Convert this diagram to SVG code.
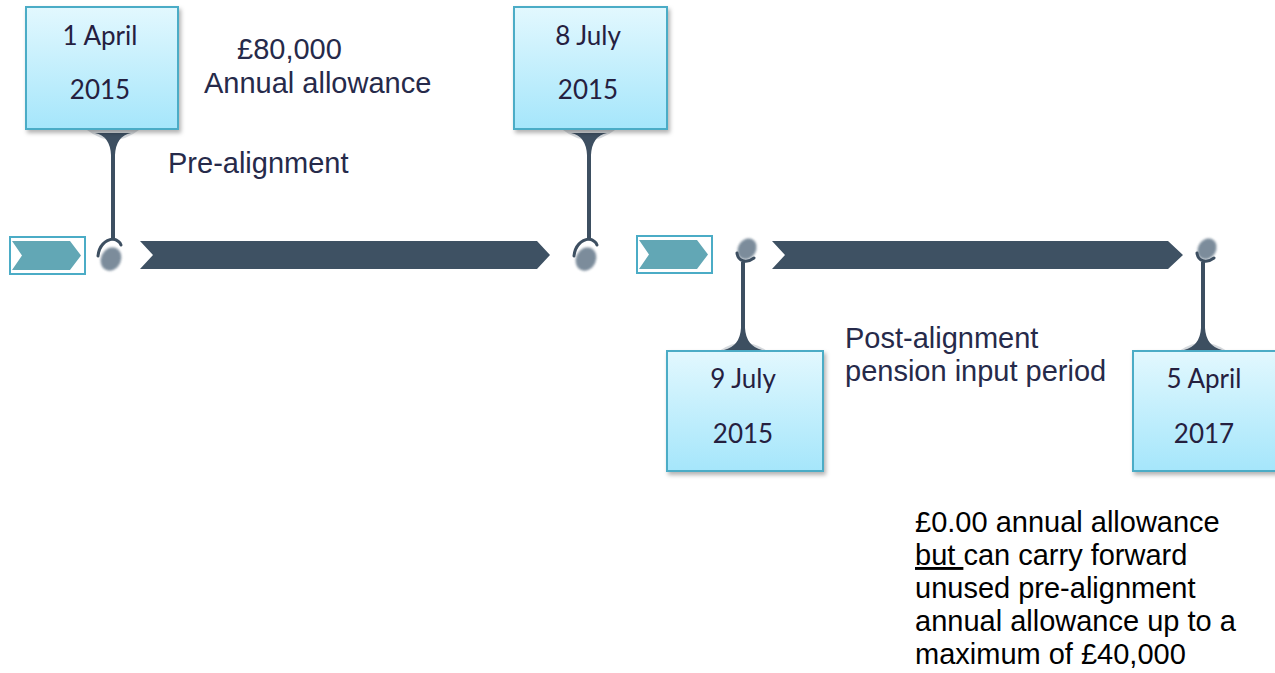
<svg xmlns="http://www.w3.org/2000/svg" width="1275" height="673" viewBox="0 0 1275 673">
<defs>
<linearGradient id="boxGrad" x1="0" y1="0" x2="0" y2="1">
<stop offset="0" stop-color="#e2f8fe"/>
<stop offset="1" stop-color="#a5e6fb"/>
</linearGradient>
<filter id="shadow" x="-10%" y="-10%" width="130%" height="130%">
<feDropShadow dx="2" dy="3" stdDeviation="2" flood-color="#000" flood-opacity="0.3"/>
</filter>
<filter id="blur1" x="-50%" y="-50%" width="200%" height="200%">
<feGaussianBlur stdDeviation="0.8"/>
</filter>
</defs>
<style>
.box{fill:url(#boxGrad);stroke:#4bacc6;stroke-width:2;filter:url(#shadow)}
.date{font-family:Lato,"Open Sans",sans-serif;font-size:26px;fill:#25203f;text-anchor:middle}
.lbl{font-family:"Liberation Sans",Arial,sans-serif;font-size:29px;fill:#262a4a}
.note{font-family:"Liberation Sans",Arial,sans-serif;font-size:29px;fill:#000}
.stem{fill:#3d4f61}
.hook{fill:none;stroke:#3d4f61;stroke-width:3;stroke-linecap:round}
.ball{fill:#7b8c9b;filter:url(#blur1)}
.shade{fill:#c3c9cf;opacity:0.7}
.bar{fill:#3e5163}
.chev{fill:#62a7b5}
.chevbox{fill:#fff;stroke:#4bacc6;stroke-width:2}
</style>

<!-- timeline bars -->
<g id="timeline">
<rect class="chevbox" x="10" y="237" width="75" height="37"/>
<polygon class="chev" points="12,241 70,241 81,255.5 70,270 12,270 22,255.5"/>
<polygon class="bar" points="140,241 537,241 550,255 537,269 140,269 153,255"/>
<rect class="chevbox" x="637" y="236" width="75" height="37"/>
<polygon class="chev" points="639,240 697,240 708,254.5 697,269 639,269 649,254.5"/>
<polygon class="bar" points="772,241 1168,241 1183,255 1168,269 772,269 785,255"/>
</g>

<!-- connectors (stems) -->
<g id="connectors">
<g id="stem1">
<path class="shade" d="M87 130 Q113 150 139 130 Z"/>
<path class="stem" d="M95 133 Q110 136 111 155 L111 240 L115 240 L115 155 Q116 136 131 133 Z"/>
<path class="hook" d="M113 239 C105 240 99 246 98 256"/>
<path class="hook" d="M113 239 C117 240 120 242 121 245"/>
<ellipse class="ball" cx="111" cy="259" rx="10" ry="12" transform="rotate(25 111 259)"/>
</g>
<g id="stem2">
<path class="shade" d="M563 130 Q589 150 615 130 Z"/>
<path class="stem" d="M571 133 Q586 136 587 155 L587 240 L591 240 L591 155 Q592 136 607 133 Z"/>
<path class="hook" d="M589 239 C581 240 575 246 574 256"/>
<path class="hook" d="M589 239 C593 240 596 242 597 245"/>
<ellipse class="ball" cx="586" cy="259" rx="10" ry="12" transform="rotate(25 586 259)"/>
</g>
<g id="stem3">
<ellipse class="ball" cx="747" cy="249" rx="9" ry="11" transform="rotate(30 747 249)"/>
<path class="hook" d="M737 253 C738 261 746 264 754 258"/>
<path class="shade" d="M719 351 Q743 334 767 351 Z"/>
<path class="stem" d="M741 262 L741 328 Q740 346 724 350 L762 350 Q746 346 745 328 L745 262 Z"/>
</g>
<g id="stem4">
<ellipse class="ball" cx="1207" cy="249" rx="9" ry="11" transform="rotate(30 1207 249)"/>
<path class="hook" d="M1197 253 C1198 261 1206 264 1214 258"/>
<path class="shade" d="M1179 351 Q1203 334 1227 351 Z"/>
<path class="stem" d="M1201 262 L1201 328 Q1200 346 1184 350 L1222 350 Q1206 346 1205 328 L1205 262 Z"/>
</g>
</g>

<!-- date nodes -->
<g id="node-1april2015">
<rect class="box" x="26" y="7" width="152" height="122"/>
<text class="date" x="100" y="45">1 April</text>
<text class="date" x="100" y="99">2015</text>
</g>
<g id="node-8july2015">
<rect class="box" x="514" y="7" width="153" height="122"/>
<text class="date" x="588" y="45">8 July</text>
<text class="date" x="588" y="99">2015</text>
</g>
<g id="node-9july2015">
<rect class="box" x="667" y="351" width="156" height="120"/>
<text class="date" x="743" y="388">9 July</text>
<text class="date" x="743" y="443">2015</text>
</g>
<g id="node-5april2017">
<rect class="box" x="1133" y="351" width="156" height="120"/>
<text class="date" x="1204" y="388">5 April</text>
<text class="date" x="1204" y="443">2017</text>
</g>

<!-- labels -->
<g id="label-pre">
<text class="lbl" x="237" y="59">£80,000</text>
<text class="lbl" x="204" y="93">Annual allowance</text>
<text class="lbl" x="168" y="173">Pre-alignment</text>
</g>
<g id="label-post">
<text class="lbl" x="845" y="348">Post-alignment</text>
<text class="lbl" x="845" y="381">pension input period</text>
</g>
<g id="label-note">
<text class="note" x="915" y="532">£0.00 annual allowance</text>
<text class="note" x="915" y="565"><tspan text-decoration="underline">but </tspan>can carry forward</text>
<text class="note" x="915" y="598">unused pre-alignment</text>
<text class="note" x="915" y="631">annual allowance up to a</text>
<text class="note" x="915" y="664">maximum of £40,000</text>
</g>
</svg>
